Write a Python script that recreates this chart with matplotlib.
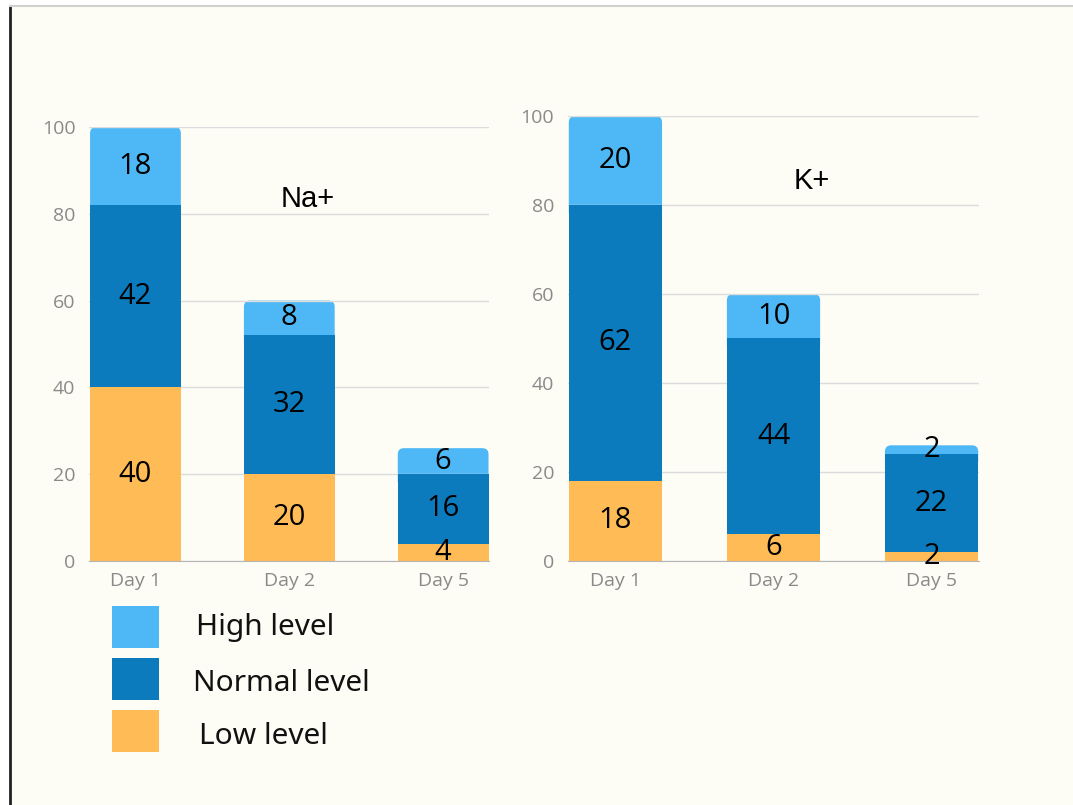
"""Stacked electrolyte level bars for Na+ and K+ (Day 1 / 2 / 5)."""
import matplotlib
matplotlib.use("Agg")
import matplotlib.pyplot as plt
from matplotlib.patches import FancyBboxPatch, Rectangle
from matplotlib.lines import Line2D

DAYS = ["Day 1", "Day 2", "Day 5"]
LEVELS = ["Low level", "Normal level", "High level"]
NA_LOW = [40, 20, 4]
NA_NORMAL = [42, 32, 16]
NA_HIGH = [18, 8, 6]
K_LOW = [18, 6, 2]
K_NORMAL = [62, 44, 22]
K_HIGH = [20, 10, 2]
YTICKS = [0, 20, 40, 60, 80, 100]

COLORS = {"Low level": "#FFBB55", "Normal level": "#0B7BBD", "High level": "#4DB8F5"}
BG = "#FDFDF5"
W, H = 1073, 805

fig = plt.figure(figsize=(W / 100, H / 100), dpi=100, facecolor="white")
# cream page with thin frame lines
fig.patches.append(Rectangle((10 / W, 0), 1, 1 - 6 / H, transform=fig.transFigure,
                             facecolor=BG, edgecolor="none", zorder=-10))
fig.lines.append(Line2D([9.5 / W, 9.5 / W], [0, 1 - 6 / H], transform=fig.transFigure,
                        color="#222222", lw=2))
fig.lines.append(Line2D([10 / W, 1], [1 - 6 / H, 1 - 6 / H], transform=fig.transFigure,
                        color="#d0d0d0", lw=1.5))


def panel(rect, low, normal, high, title, tpos):
    ax = fig.add_axes(rect)
    ax.set_facecolor("none")
    x = range(len(DAYS))
    bw = 0.59
    b_low = ax.bar(x, low, bw, color=COLORS["Low level"], zorder=2)
    b_norm = ax.bar(x, normal, bw, bottom=low, color=COLORS["Normal level"], zorder=2)
    base = [a + b for a, b in zip(low, normal)]
    b_high = ax.bar(x, high, bw, bottom=base, color=COLORS["High level"], zorder=2)
    ax.set_xlim(-0.3, 2.3)
    ax.set_ylim(0, 100)
    # rounded top corners on the top segment
    fig.canvas.draw()
    bb = ax.get_window_extent()
    aspect = (100 / bb.height) / (2.6 / bb.width)
    for r in b_high:
        r.set_visible(False)
        ext = 3
        p = FancyBboxPatch((r.get_x(), r.get_y() - ext), r.get_width(), r.get_height() + ext,
                           boxstyle="round,pad=0,rounding_size=0.04",
                           mutation_aspect=aspect, facecolor=COLORS["High level"],
                           edgecolor="none", zorder=1)
        ax.add_patch(p)
    for c in (b_low, b_norm, b_high):
        ax.bar_label(c, label_type="center", fontsize=21, family="Open Sans", color="black")
    ax.set_yticks(YTICKS)
    ax.set_xticks(list(x))
    ax.set_xticklabels(DAYS)
    ax.grid(axis="y", color="#dcdcdc", lw=1, zorder=0)
    for s in ("top", "right", "left"):
        ax.spines[s].set_visible(False)
    ax.spines["bottom"].set_color("#b5b5b5")
    ax.tick_params(length=0, labelsize=14, labelcolor="#8a8a8a")
    ax.tick_params(axis="y", pad=10)
    ax.tick_params(axis="x", pad=8)
    for t in ax.get_xticklabels() + ax.get_yticklabels():
        t.set_family("Open Sans")
    ax.text(tpos[0], tpos[1], title, fontsize=21, family="Liberation Sans",
            ha="center", va="center", color="black")
    return ax


panel([89.3 / W, 1 - 561 / H, 400 / W, 434 / H], NA_LOW, NA_NORMAL, NA_HIGH, "Na+", (1.12, 83.4))
panel([568 / W, 1 - 561 / H, 411 / W, 445 / H], K_LOW, K_NORMAL, K_HIGH, "K+", (1.24, 85.4))

# legend, top to bottom: high, normal, low
text_x = [196, 193, 199]
text_base = [635, 691, 744]
for i, lvl in enumerate(LEVELS[::-1]):
    top = 606 + 52 * i
    fig.patches.append(Rectangle((112 / W, 1 - (top + 42) / H), 47 / W, 42 / H,
                                 transform=fig.transFigure, facecolor=COLORS[lvl],
                                 edgecolor="none"))
    fig.text(text_x[i] / W, 1 - text_base[i] / H, lvl, fontsize=21.5, family="Noto Sans",
             va="baseline", ha="left", color="#111111")

fig.savefig("out.png", dpi=100, facecolor=fig.get_facecolor())
